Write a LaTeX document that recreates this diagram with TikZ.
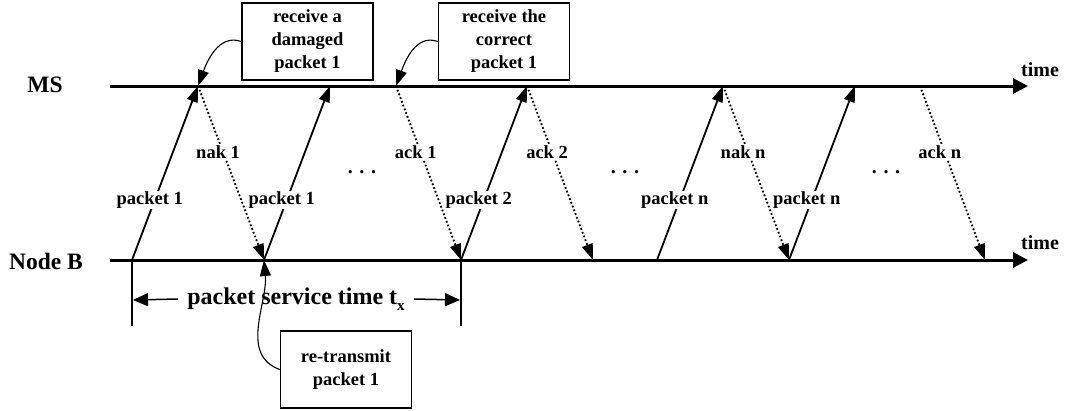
\documentclass[tikz,border=0pt]{standalone}
\usepackage{fontspec}
\setmainfont{Liberation Serif}
\usetikzlibrary{arrows.meta}

\begin{document}
\begin{tikzpicture}[x=1pt,y=-1pt,
  axis/.style={line width=3pt,-{Triangle[length=15pt,width=15pt]}},
  pkt/.style={line width=1.8pt,-{Triangle[length=16pt,width=11pt]}},
  ctl/.style={line width=1.8pt,dash pattern=on 1.8pt off 2.2pt,-{Triangle[length=16pt,width=11pt]}},
  lbl/.style={fill=white,inner sep=1pt,font=\fontsize{18.5}{22}\selectfont\bfseries,xshift=-5pt},
  note/.style={draw,line width=1.5pt,minimum width=131pt,minimum height=77pt,inner sep=2pt,
    align=center,font=\fontsize{18.5}{23}\selectfont\bfseries},
  callout/.style={line width=1.1pt,-{Triangle[length=16pt,width=11pt]}},
  side/.style={font=\fontsize{23.5}{26}\selectfont\bfseries},
  tlbl/.style={font=\fontsize{20}{22}\selectfont\bfseries},
  dots/.style={font=\fontsize{20}{22}\selectfont\bfseries},
  dim/.style={line width=1.5pt,-{Triangle[length=15pt,width=13pt]}},
  tick/.style={line width=1.5pt},
]
\useasboundingbox (0,0) rectangle (1066,410);

% time axes
\coordinate (ms0) at (110,86);
\coordinate (msE) at (1028,86);
\coordinate (nb0) at (110,260);
\coordinate (nbE) at (1028,260);
\draw[axis] (ms0) -- (msE);
\draw[axis] (nb0) -- (nbE);
\node[side] (ms) at (45,85) {MS};
\node[side] (nb) at (46,261) {Node B};
\node[tlbl] (time1) at (1040,70) {time};
\node[tlbl] (time2) at (1040,243) {time};

% events on the MS axis
\coordinate (t1) at (198,86);
\coordinate (t2) at (330,86);
\coordinate (t3) at (396,86);
\coordinate (t4) at (527,86);
\coordinate (t5) at (723,86);
\coordinate (t6) at (855,86);
\coordinate (t7) at (920,86);
% events on the Node B axis
\coordinate (b1) at (132,260);
\coordinate (b2) at (264,260);
\coordinate (b3) at (461,260);
\coordinate (b4) at (593,260);
\coordinate (b5) at (657,260);
\coordinate (b6) at (789,260);
\coordinate (b7) at (985,260);

% packets (solid) and acknowledgements (dotted)
\draw[pkt] (b1) -- node[lbl,pos=0.345] {packet 1} (t1);
\draw[ctl] (t1) -- node[lbl,pos=0.38] {nak 1} (b2);
\draw[pkt] (b2) -- node[lbl,pos=0.345] {packet 1} (t2);
\draw[ctl] (t3) -- node[lbl,pos=0.38] {ack 1} (b3);
\draw[pkt] (b3) -- node[lbl,pos=0.345] {packet 2} (t4);
\draw[ctl] (t4) -- node[lbl,pos=0.38] {ack 2} (b4);
\draw[pkt] (b5) -- node[lbl,pos=0.345] {packet n} (t5);
\draw[ctl] (t5) -- node[lbl,pos=0.38] {nak n} (b6);
\draw[pkt] (b6) -- node[lbl,pos=0.345] {packet n} (t6);
\draw[ctl] (t7) -- node[lbl,pos=0.38] {ack n} (b7);

\node[dots] (d1) at (362,172) {.\,\,.\,\,.};
\node[dots] (d2) at (625,172) {.\,\,.\,\,.};
\node[dots] (d3) at (886,172) {.\,\,.\,\,.};

% packet service time
\coordinate (k1) at (132,326);
\coordinate (k2) at (461,326);
\draw[tick] (b1) -- (k1);
\draw[tick] (b3) -- (k2);
\coordinate (e1) at (133,300);
\coordinate (e2) at (460,300);
\node[font=\fontsize{24}{26}\selectfont\bfseries,inner xsep=9pt] (svc) at (296,299)
  {packet service time t\raisebox{-0.5ex}{\fontsize{15}{15}\selectfont x}};
\draw[dim] (svc.west) -- (e1);
\draw[dim] (svc.east) -- (e2);

% callouts
\node[note] (n1) at (307.5,41.5) {receive a\\damaged\\packet 1};
\node[note] (n2) at (504,41.5) {receive the\\correct\\packet 1};
\node[note] (n3) at (346,369.5) {re-transmit\\packet 1};
\draw[callout] (n1.west) to[out=160,in=70] (t1);
\draw[callout] (n2.west) to[out=160,in=70] (t3);
\draw[callout] (n3.west) to[out=160,in=-85] (b2);
\end{tikzpicture}
\end{document}
